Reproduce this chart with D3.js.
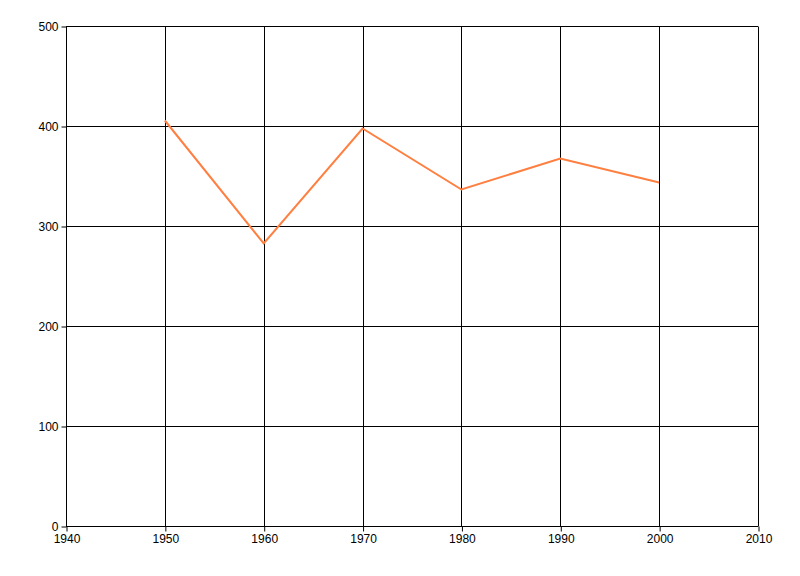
<!DOCTYPE html>
<html><head><meta charset="utf-8">
<script src="https://cdn.jsdelivr.net/npm/d3@7"></script>
<style>
body{margin:0;background:#fff;}
svg{display:block;}
text{font-family:"Liberation Sans",Arial,sans-serif;font-size:12px;fill:#000;}
</style></head>
<body>
<svg id="c" width="800" height="576"></svg>
<script>
const years = [1950, 1960, 1970, 1980, 1990, 2000];
const values = [406, 283, 398, 337, 368, 344];
const xTicks = [1940, 1950, 1960, 1970, 1980, 1990, 2000, 2010];
const yTicks = [0, 100, 200, 300, 400, 500];

(function(){
const svg = d3.select("#c");
const mLeft = 66, mRight = 758, mTop = 26.5, mBottom = 526.5;
const x = d3.scaleLinear().domain([1940, 2010]).range([mLeft, mRight]);
const y = d3.scaleLinear().domain([0, 500]).range([mBottom, mTop]);

const g = svg.append("g");
g.selectAll(".vg").data(xTicks).enter().append("line")
  .attr("x1", d => Math.round(x(d)) + 0.5).attr("x2", d => Math.round(x(d)) + 0.5)
  .attr("y1", mTop).attr("y2", mBottom).attr("stroke", "#000").attr("stroke-width", 1);
g.selectAll(".hg").data(yTicks).enter().append("line")
  .attr("y1", d => Math.floor(y(d)) + 0.5).attr("y2", d => Math.floor(y(d)) + 0.5)
  .attr("x1", mLeft).attr("x2", mRight).attr("stroke", "#000").attr("stroke-width", 1);

const xAxis = d3.axisBottom(x).tickValues(xTicks).tickFormat(d3.format("d")).tickSize(5).tickPadding(3);
const ax = svg.append("g").attr("transform", `translate(0.5,${mBottom})`).call(xAxis);
ax.select(".domain").remove();
ax.selectAll("line").attr("stroke", "#000");

const yAxis = d3.axisLeft(y).tickValues(yTicks).tickFormat(d3.format("d")).tickSize(5).tickPadding(3);
const ay = svg.append("g").attr("transform", `translate(${mLeft + 0.5},0)`).call(yAxis);
ay.select(".domain").remove();
ay.selectAll("line").attr("stroke", "#000");

const line = d3.line().x((d, i) => x(years[i])).y(d => y(d));
svg.append("path").datum(values).attr("d", line)
  .attr("fill", "none").attr("stroke", "#FF7F40").attr("stroke-width", 2).attr("stroke-linejoin", "miter");
})();
</script>
</body></html>
